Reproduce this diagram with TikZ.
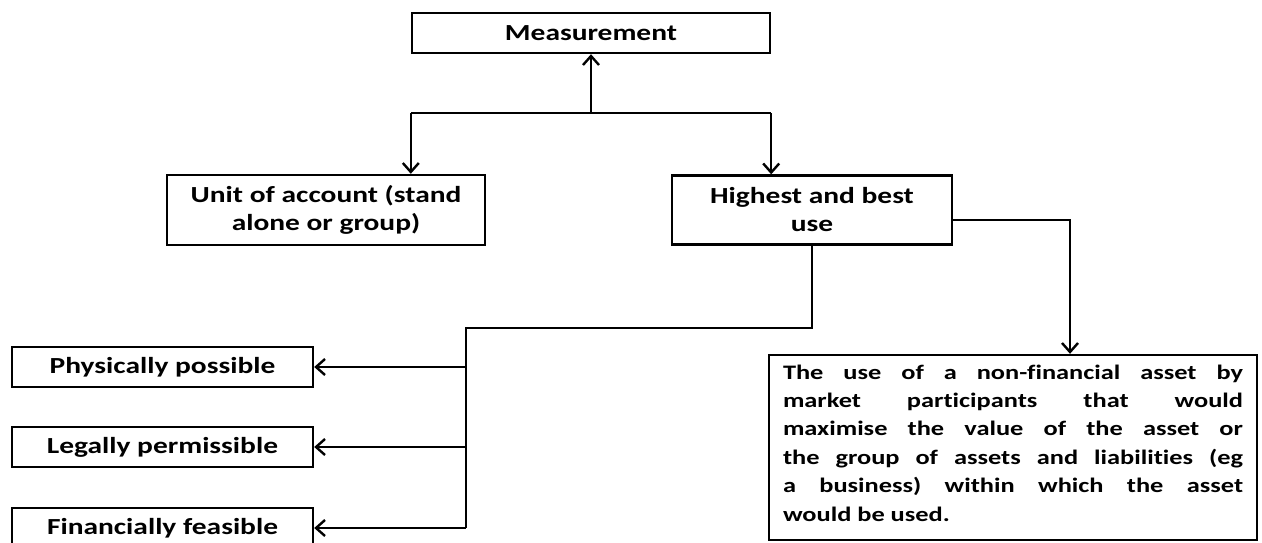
\documentclass[tikz,border=0pt]{standalone}
\usepackage{fontspec}
\setmainfont{Carlito}[FakeStretch=1.28,Ligatures=NoCommon]
\usetikzlibrary{arrows.meta,calc}
\begin{document}
\begin{tikzpicture}[x=1pt,y=-1pt,
  box/.style={draw,line width=2.4pt,inner sep=0pt,align=center,
    font=\fontsize{23}{28}\selectfont\bfseries},
  conn/.style={line width=2.4pt},
  arr/.style={conn,-{Straight Barb[length=9pt,width=16pt,line width=2.4pt]}}]
\clip (0,0) rectangle (1262,543);
\useasboundingbox (0,0) rectangle (1262,543);
\node[box,minimum width=358,minimum height=40] (meas) at (591,33) {Measurement};
\node[box,minimum width=318,minimum height=70] (unit) at (326,210) {Unit of account (stand\\alone or group)};
\node[box,minimum width=280,minimum height=69] (high) at (812,210) {Highest and best\\use};
\node[box,minimum width=301,minimum height=40] (phys) at (162.5,367) {Physically possible};
\node[box,minimum width=301,minimum height=40] (legal) at (162.5,447) {Legally permissible};
\node[box,minimum width=301,minimum height=40] (fin) at (162.5,528) {Financially feasible};
\node[box,minimum width=488,minimum height=185] (long) at (1013,447.5) {};
\node[inner sep=0pt,align=left,font=\fontsize{20.6}{28.4}\selectfont\bfseries] (longtxt)
  at ($(long.center)+(0,-4.5)$) {%
\makebox[460pt][s]{The use of a non-financial asset by}\\
\makebox[460pt][s]{market participants that would}\\
\makebox[460pt][s]{maximise the value of the asset or}\\
\makebox[460pt][s]{the group of assets and liabilities (eg}\\
\makebox[460pt][s]{a business) within which the asset}\\
\makebox[460pt][l]{would be used.}};
% top connectors
\coordinate (j) at ($(meas.south)+(0,59)$);
\coordinate (jl) at (meas.west |- j);
\coordinate (jr) at (meas.east |- j);
\draw[arr] (j) -- (meas.south);
\draw[conn] (jl) -- (jr);
\draw[arr] (jl) -- (jl |- unit.north);
\draw[arr] (jr) -- (jr |- high.north);
% right branch
\coordinate (rs) at ($(high.east)+(0,10)$);
\coordinate (re) at ($(long.north)+(57,0)$);
\draw[arr] (rs) -| (re);
% left branch
\coordinate (t) at (466,328);
\draw[conn] (high.south) |- (t) -- (t |- fin.east);
\draw[arr] (t |- phys.east) -- (phys.east);
\draw[arr] (t |- legal.east) -- (legal.east);
\draw[arr] (t |- fin.east) -- (fin.east);
\end{tikzpicture}
\end{document}
